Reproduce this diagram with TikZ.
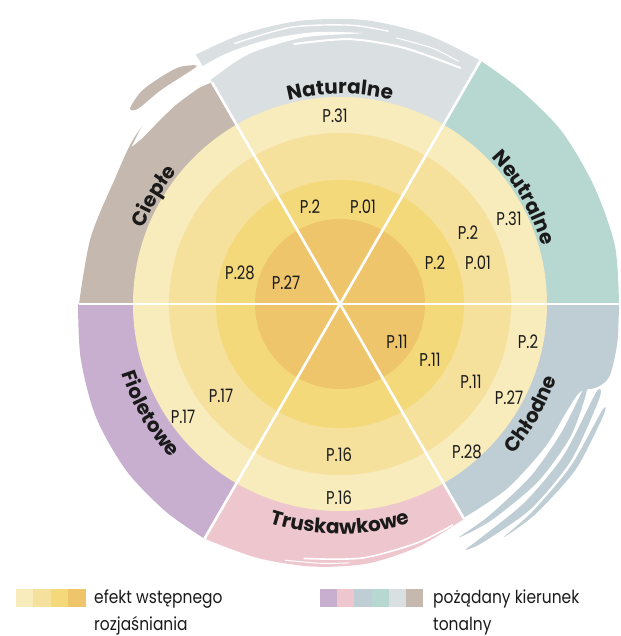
\documentclass[tikz,border=0pt]{standalone}
\usepackage{fontspec}
\usetikzlibrary{decorations.text}
\newfontfamily\plabfont{Poppins}[FakeStretch=0.8]
\newfontfamily\legfont{Poppins}[FakeStretch=0.86]
\newfontfamily\secfont{Poppins}
\newcommand\secstyle{\secfont\bfseries\fontsize{20}{20}\selectfont}
\definecolor{y1}{HTML}{F8EBBC}
\definecolor{y2}{HTML}{F5E09C}
\definecolor{y3}{HTML}{F4D97B}
\definecolor{y4}{HTML}{EEC56B}
\definecolor{cfio}{HTML}{C9AFCF}
\definecolor{ctru}{HTML}{EEC7CE}
\definecolor{cchl}{HTML}{BFCDD4}
\definecolor{cneu}{HTML}{B7D8D1}
\definecolor{cnat}{HTML}{DADFE2}
\definecolor{ccie}{HTML}{C5B8AE}
\definecolor{ink}{HTML}{1A1A1A}
\tikzset{
  plab/.style={font=\plabfont\fontsize{18.5}{19}\selectfont, text=ink, inner sep=0pt},
  legtext/.style={font=\legfont\fontsize{18}{20}\selectfont, text=ink, inner sep=0pt, anchor=base west},
  divider/.style={white, line width=2.6pt},
  streak/.style={white, line cap=round},
  blade/.style={cchl, smooth cycle, tension=0.45},
  seclab/.style={decorate, decoration={text along path, text align=center, text color=ink}},
}
\begin{document}
\begin{tikzpicture}[x=1pt, y=1pt]
\useasboundingbox (-340,-332) rectangle (280,304);
\coordinate (O) at (0,0);
% sectors
\fill[cneu] (O) -- plot[smooth] coordinates {(0:279) (12:281) (25:280) (38:281) (50:280) (60:281)} -- cycle;
\fill[cnat] (O) -- plot[smooth] coordinates {(60:281) (72:283) (85:285) (98:286) (110:287) (120:288)} -- (120:256) -- cycle;
\fill[ccie] (O) -- plot[smooth] coordinates {(120:256) (128:262) (136:266) (142:264) (150:258) (165:258) (180:261)} -- cycle;
\fill[cfio] (O) -- plot[smooth] coordinates {(180:262) (192:265) (205:269) (218:271) (230:271) (240:271)} -- cycle;
\fill[ctru] (O) -- plot[smooth] coordinates {(240:271) (252:267) (264:264) (276:261) (288:255) (300:248)} -- cycle;
\fill[cchl] (O) -- plot[smooth, tension=0.5] coordinates {(300:247) (312:249) (325:250) (335:251) (340:256) (342:270) (345:279) (352:280) (360:279)} -- cycle;
% Chlodne brush blades
\fill[blade] plot coordinates {(341:258) (330:256) (318:257) (305:259) (297:262) (305:264) (318:266) (330:266) (340:262)};
\fill[blade] plot coordinates {(341:271) (326:270) (313:271) (301:273) (297:276) (301:278) (313:280) (326:279) (340:276)};
\fill[blade] plot coordinates {(338:283) (325:282) (313:283) (305:285) (313:287) (325:288) (337:286)};
% white brush band at the top
\fill[white] plot[smooth] coordinates {(143:261) (135:269) (125:274) (115:275) (105:274) (95:273) (85:272)} -- plot[smooth] coordinates {(88:270) (98:269) (110:266) (120:259) (130:258) (140:258)} -- cycle;
\draw[streak, line width=2pt] plot[smooth] coordinates {(100:264) (88:265) (76:264) (63:265)};
\draw[streak, line width=1.4pt] plot[smooth] coordinates {(112:281) (100:281) (88:279) (80:277)};
\draw[streak, line width=1pt] plot[smooth] coordinates {(78:272) (70:272) (64:270)};
% taupe wisp above the band
\fill[ccie] plot[smooth cycle, tension=0.5] coordinates {(121:278) (124:286) (128:289) (133:291) (137:287) (136:281) (130:279) (124:277)};
% white streaks in the pink sector
\draw[streak, line width=1.6pt] plot[smooth] coordinates {(262:257) (275:255) (288:251) (297:248)};
\draw[streak, line width=1pt] plot[smooth] coordinates {(258:262) (266:260) (272:259)};
% yellow rings
\fill[y1] (O) circle (207);
\fill[y2] (O) circle (171);
\fill[y3] (O) circle (124);
\fill[y4] (O) circle (85);
% dividers
\foreach \a/\r in {0/279, 60/282, 120/256, 180/261, 240/271, 300/248}
  \draw[divider] (O) -- (\a:\r);
% sector labels
\path[seclab, decoration={text={|\secstyle|Naturalne}}] (120:210) arc[start angle=120, end angle=60, radius=210];
\path[seclab, decoration={text={|\secstyle|Neutralne}}] (60:210) arc[start angle=60, end angle=0, radius=210];
\path[seclab, decoration={text={|\secstyle|Ciepłe}}] (180:210) arc[start angle=180, end angle=120, radius=210];
\path[seclab, decoration={text={|\secstyle|Fioletowe}}] (180:229) arc[start angle=180, end angle=240, radius=229];
\path[seclab, decoration={text={|\secstyle|Truskawkowe}}] (240:230) arc[start angle=240, end angle=300, radius=230];
\path[seclab, decoration={text={|\secstyle|Chłodne}}] (300:229) arc[start angle=300, end angle=360, radius=229];
% P labels
\node[plab] (na1) at (-5,188) {P.31};
\node[plab] (na2) at (-30,97) {P.2};
\node[plab] (na3) at (23,97) {P.01};
\node[plab] (ne1) at (169,85) {P.31};
\node[plab] (ne2) at (128,71) {P.2};
\node[plab] (ne3) at (95,41) {P.2};
\node[plab] (ne4) at (138,41) {P.01};
\node[plab] (ci1) at (-100,31) {P.28};
\node[plab] (ci2) at (-54,21) {P.27};
\node[plab] (ch1) at (57,-38) {P.11};
\node[plab] (ch2) at (90,-56) {P.11};
\node[plab] (ch3) at (131,-78) {P.11};
\node[plab] (ch4) at (188,-38) {P.2};
\node[plab] (ch5) at (169,-94) {P.27};
\node[plab] (ch6) at (127,-148) {P.28};
\node[plab] (fi1) at (-119,-92) {P.17};
\node[plab] (fi2) at (-157,-113) {P.17};
\node[plab] (tr1) at (-1,-151) {P.16};
\node[plab] (tr2) at (-1,-194) {P.16};
% legend
\foreach \c [count=\i from 0] in {y1,y2,y3,y4}
  \fill[\c] (-324+17.5*\i,-303) rectangle ++(17.5,18);
\foreach \c [count=\i from 0] in {cfio,ctru,cchl,cneu,cnat,ccie}
  \fill[\c] (-20+17.2*\i,-303) rectangle ++(17.2,18);
\node[legtext] (l1) at (-246,-299) {efekt wstępnego};
\node[legtext] (l2) at (-246,-326) {rozjaśniania};
\node[legtext] (r1) at (93,-299) {pożądany kierunek};
\node[legtext] (r2) at (93,-326) {tonalny};
\end{tikzpicture}
\end{document}
